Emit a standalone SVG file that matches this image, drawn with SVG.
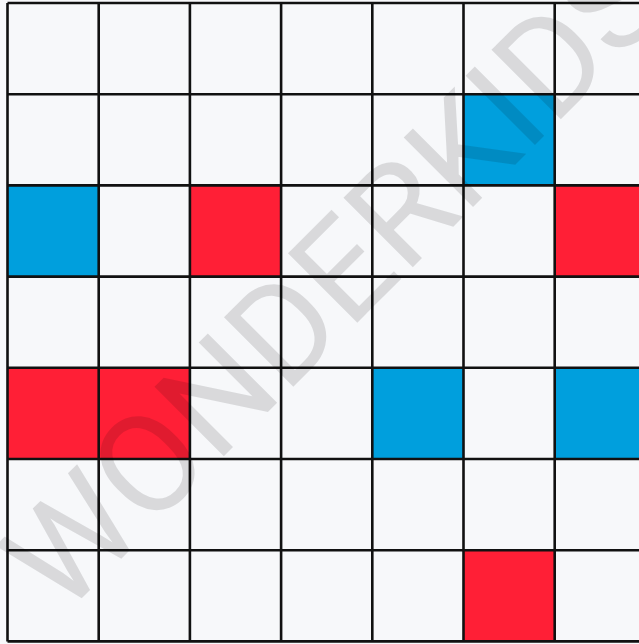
<svg xmlns="http://www.w3.org/2000/svg" width="639" height="644" viewBox="0 0 639 644">
<style>
.c{fill:#f7f8fa}
.b{fill:#009fdd}
.r{fill:#ff1f36}
.g{stroke:#111;stroke-width:2.6;fill:none}
.wm{font-family:Roboto,"Liberation Sans",sans-serif;font-size:138px;fill:#000;fill-opacity:0.12}
</style>
<rect width="639" height="644" fill="#f8f9fb"/>
<g id="cells">
<rect class="c" x="7.5" y="3" width="640" height="638.4"/>
<rect class="b" x="463.5" y="94.2" width="91.2" height="91.2"/>
<rect class="b" x="7.5" y="185.4" width="91.2" height="91.2"/>
<rect class="r" x="189.9" y="185.4" width="91.2" height="91.2"/>
<rect class="r" x="554.7" y="185.4" width="91.2" height="91.2"/>
<rect class="r" x="7.5" y="367.8" width="91.2" height="91.2"/>
<rect class="r" x="98.7" y="367.8" width="91.2" height="91.2"/>
<rect class="b" x="372.3" y="367.8" width="91.2" height="91.2"/>
<rect class="b" x="554.7" y="367.8" width="91.2" height="91.2"/>
<rect class="r" x="463.5" y="550.2" width="91.2" height="91.2"/>
</g>
<g id="grid" class="g">
<path d="M7.5 3V641.4M98.7 3V641.4M189.9 3V641.4M281.1 3V641.4M372.3 3V641.4M463.5 3V641.4M554.7 3V641.4"/>
<path d="M7.5 3H639M7.5 94.2H639M7.5 185.4H639M7.5 276.6H639M7.5 367.8H639M7.5 459H639M7.5 550.2H639M7.5 641.4H639"/>
</g>
<text class="wm" x="0" y="0" transform="translate(62,618) rotate(-45)">WONDERKIDS</text>
</svg>
